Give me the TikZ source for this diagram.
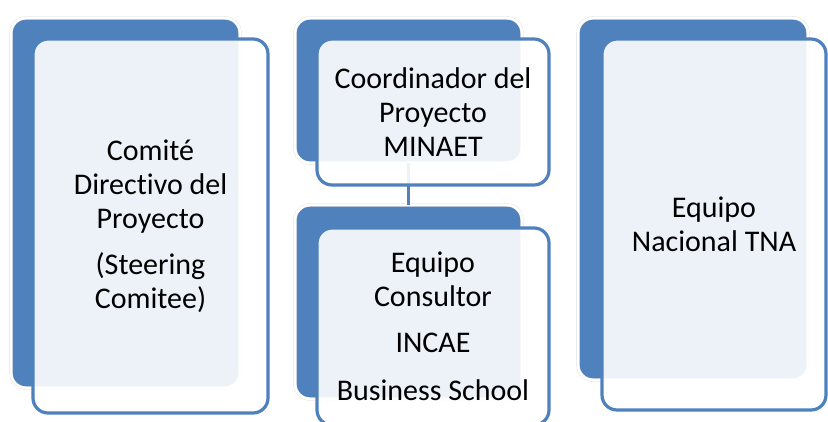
\documentclass[tikz,border=0pt]{standalone}
\usepackage{fontspec}
\setmainfont{Carlito}[Ligatures=NoCommon]
\usetikzlibrary{positioning}
\definecolor{accent}{RGB}{79,129,189}

\begin{document}
\begin{tikzpicture}[x=1pt,y=-1pt,
		backbox/.style={fill=accent, draw=black!12, double=white, double distance=2.5pt, line width=0.4pt, rounded corners=15pt, inner sep=0pt},
		frontbox/.style={fill=white, fill opacity=0.9, text opacity=1, draw=accent, line width=3.2pt, rounded corners=15pt, align=center, inner sep=0pt,
			font=\fontsize{30}{34}\selectfont},
		link/.style={draw=accent, line width=3pt}]
		\useasboundingbox (0,0) rectangle (828,422);
		\fill[white] (0,0) rectangle (828,422);
		% back boxes
		\node[backbox, minimum width=229, minimum height=370] (comiteback) at (125.5,203) {};
		\node[backbox, minimum width=227, minimum height=145] (coordback) at (408.5,90.5) {};
		\node[backbox, minimum width=227, minimum height=194] (consultback) at (408.5,302) {};
		\node[backbox, minimum width=230, minimum height=362] (equipoback) at (693,199) {};
		\draw[link] (coordback.south) -- (consultback.north);
		% front boxes
		\node[frontbox, minimum width=235, minimum height=374] (comite) at (150.5,226)
			{Comité\\Directivo del\\Proyecto\\[12pt](Steering\\Comitee)};
		\node[frontbox, minimum width=232, minimum height=146] (coord) at (433,112)
			{Coordinador del\\Proyecto\\MINAET};
		\node[frontbox, minimum width=232, minimum height=197] (consult) at (433,326.5)
			{Equipo\\Consultor\\[12pt]INCAE\\[14pt]Business School};
		\node[frontbox, minimum width=224, minimum height=371] (equipo) at (714,224.5)
			{Equipo\\Nacional TNA};
	\end{tikzpicture}
\end{document}
